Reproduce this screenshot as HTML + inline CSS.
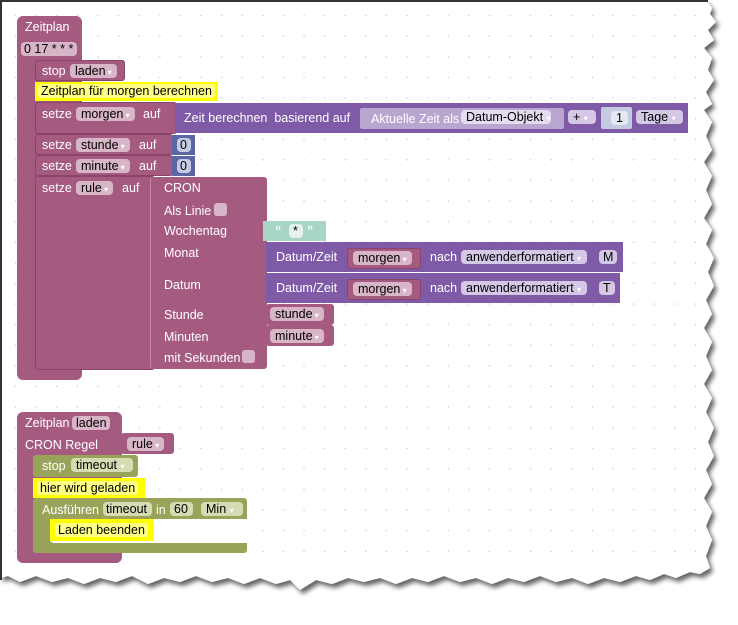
<!DOCTYPE html>
<html><head><meta charset="utf-8"><style>
body{margin:0;width:738px;height:625px;overflow:hidden;background:#fff;font-family:"Liberation Sans",Arial,sans-serif;font-size:12.5px;position:relative}
.a{position:absolute;box-sizing:border-box}
.b{background:#a55b80;border-radius:3px}
.t{position:absolute;color:#fff;white-space:nowrap;line-height:14px}
.f{position:absolute;background:#d8b5c7;color:#000;border-radius:4px;height:14px;line-height:14px;padding:0 5px;white-space:nowrap;box-sizing:border-box}
.dd:after{content:" ▾";font-size:8px;color:#fff}
.p{background:#7f5aa6}
.g{background:#9aa35a}
.gf{background:#d6dbb3}
.y{background:#ffff00}
.yi{position:absolute;background:#ffff88;border-radius:3px;color:#000;white-space:nowrap;line-height:14px;padding:0 3px}
.cb{position:absolute;width:13px;height:13px;background:#d8b5c7;border-radius:3px}
</style></head><body>
<svg class="a" style="left:0;top:0" width="738" height="625">
<defs><pattern id="d" width="20.6" height="20.6" patternUnits="userSpaceOnUse" x="5" y="5"><rect x="10" y="10" width="1.3" height="1.3" fill="#ccc"/></pattern>
<filter id="s"><feDropShadow dx="3" dy="4" stdDeviation="2.5" flood-color="#000" flood-opacity="0.6"/></filter></defs>
<path filter="url(#s)" fill="#fff" d="M0,0 L706,0 L712,8 L710,14 L716,22 L708,30 L714,40 L704,48 L712,58 L708,70 L714,80 L706,92 L712,104 L704,110 L712,122 L706,136 L712,150 L704,162 L712,176 L706,190 L712,204 L704,218 L712,230 L706,244 L714,258 L708,272 L714,286 L706,300 L712,314 L704,328 L712,342 L706,356 L712,370 L704,384 L712,398 L706,412 L714,428 L708,442 L714,456 L706,470 L712,484 L704,498 L712,512 L706,526 L712,540 L706,556 L710,568 L700,574 L690,572 L676,578 L664,574 L650,580 L636,576 L620,582 L604,578 L588,584 L572,578 L556,582 L540,576 L524,582 L508,578 L492,584 L476,578 L460,582 L444,576 L428,582 L412,578 L396,584 L380,578 L364,582 L348,578 L332,584 L316,580 L300,590 L290,580 L276,584 L260,578 L244,584 L228,578 L212,582 L196,576 L180,582 L164,578 L148,584 L132,576 L116,582 L100,578 L84,584 L68,578 L52,582 L36,576 L20,582 L8,576 L0,578 Z"/>
<path fill="url(#d)" d="M2,2 L700,2 L700,570 L2,570 Z"/>
<path d="M1,580 L1,1 L708,1" stroke="#333" stroke-width="2" fill="none"/>
</svg>

<!-- Block 1 -->
<div class="a b" style="left:17px;top:16px;width:65px;height:364px;border-radius:6px 6px 6px 6px"></div>
<div class="t" style="left:25px;top:20px">Zeitplan</div>
<div class="f" style="left:21px;top:42px;width:56px;padding:0 3px">0 17 * * *</div>

<div class="a b" style="left:35px;top:60px;width:90px;height:21px;border:1px solid #8a4468"></div>
<div class="t" style="left:42px;top:64px">stop</div>
<div class="f dd" style="left:70px;top:64px">laden</div>

<div class="a y" style="left:35px;top:82px;width:183px;height:19px"></div>
<div class="yi" style="left:38px;top:84px">Zeitplan für morgen berechnen</div>

<div class="a b" style="left:35px;top:102px;width:142px;height:32px;border:1px solid #8a4468"></div>
<div class="t" style="left:42px;top:107px">setze</div>
<div class="f dd" style="left:76px;top:107px">morgen</div>
<div class="t" style="left:143px;top:107px">auf</div>
<div class="a p" style="left:175px;top:103px;width:513px;height:30px"></div>
<div class="t" style="left:184px;top:111px">Zeit berechnen&nbsp; basierend auf</div>
<div class="a" style="left:360px;top:108px;width:204px;height:21px;background:#b8a5d0;border-radius:2px"></div>
<div class="t" style="left:371px;top:112px">Aktuelle Zeit als</div>
<div class="f" style="left:461px;top:110px;width:90px;background:#e6dcef">Datum-Objekt <span style="font-size:8px;color:#fff">▾</span></div>
<div class="f" style="left:568px;top:110px;width:28px;background:#d5c8e6">+ <span style="font-size:8px;color:#fff">▾</span></div>
<div class="a" style="left:601px;top:107px;width:31px;height:22px;background:#c5cbe2;border-radius:2px"></div>
<div class="f" style="left:611px;top:111px;width:17px;background:#e6e9f4;padding:0 5px">1</div>
<div class="f" style="left:636px;top:110px;width:47px;background:#d5c8e6">Tage <span style="font-size:8px;color:#fff">▾</span></div>

<div class="a b" style="left:35px;top:134px;width:138px;height:21px;border:1px solid #8a4468"></div>
<div class="t" style="left:42px;top:138px">setze</div>
<div class="f dd" style="left:76px;top:138px">stunde</div>
<div class="t" style="left:139px;top:138px">auf</div>
<div class="a" style="left:172px;top:135px;width:23px;height:20px;background:#5b67a5"></div>
<div class="f" style="left:177px;top:138px;width:14px;background:#c5cbe2;padding:0 3px">0</div>

<div class="a b" style="left:35px;top:155px;width:138px;height:21px;border:1px solid #8a4468"></div>
<div class="t" style="left:42px;top:159px">setze</div>
<div class="f dd" style="left:76px;top:159px">minute</div>
<div class="t" style="left:139px;top:159px">auf</div>
<div class="a" style="left:172px;top:156px;width:23px;height:20px;background:#5b67a5"></div>
<div class="f" style="left:177px;top:159px;width:14px;background:#c5cbe2;padding:0 3px">0</div>

<div class="a b" style="left:35px;top:176px;width:120px;height:194px;border:1px solid #8a4468"></div>
<div class="t" style="left:42px;top:181px">setze</div>
<div class="f dd" style="left:76px;top:181px">rule</div>
<div class="t" style="left:122px;top:181px">auf</div>
<div class="a b" style="left:150px;top:177px;width:117px;height:192px;border-left:1px solid #c48aa6"></div>
<div class="t" style="left:164px;top:181px">CRON</div>
<div class="t" style="left:164px;top:204px">Als Linie</div><div class="cb" style="left:214px;top:203px"></div>
<div class="t" style="left:164px;top:224px">Wochentag</div>
<div class="t" style="left:164px;top:246px">Monat</div>
<div class="t" style="left:164px;top:278px">Datum</div>
<div class="t" style="left:164px;top:308px">Stunde</div>
<div class="t" style="left:164px;top:330px">Minuten</div>
<div class="t" style="left:164px;top:351px">mit Sekunden</div><div class="cb" style="left:242px;top:350px"></div>

<div class="a" style="left:263px;top:221px;width:63px;height:20px;background:#a8d6c4"></div>
<div class="t" style="left:275px;top:224px;color:#fff;font-weight:bold">“</div>
<div class="f" style="left:289px;top:224px;width:14px;background:#e6f2ed;padding:0 4px">*</div>
<div class="t" style="left:307px;top:224px;color:#fff;font-weight:bold">”</div>

<div class="a p" style="left:266px;top:242px;width:357px;height:30px"></div>
<div class="t" style="left:276px;top:250px">Datum/Zeit</div>
<div class="a b" style="left:347px;top:248px;width:74px;height:21px;border:1px solid #8a4468"></div>
<div class="f dd" style="left:353px;top:251px">morgen</div>
<div class="t" style="left:430px;top:250px">nach</div>
<div class="f" style="left:461px;top:250px;width:126px;background:#d5c8e6">anwenderformatiert <span style="font-size:8px;color:#fff">▾</span></div>
<div class="f" style="left:599px;top:250px;width:18px;background:#d5c8e6;padding:0 4px">M</div>

<div class="a p" style="left:266px;top:273px;width:354px;height:30px"></div>
<div class="t" style="left:276px;top:281px">Datum/Zeit</div>
<div class="a b" style="left:347px;top:279px;width:74px;height:21px;border:1px solid #8a4468"></div>
<div class="f dd" style="left:353px;top:282px">morgen</div>
<div class="t" style="left:430px;top:281px">nach</div>
<div class="f" style="left:461px;top:281px;width:126px;background:#d5c8e6">anwenderformatiert <span style="font-size:8px;color:#fff">▾</span></div>
<div class="f" style="left:599px;top:281px;width:16px;background:#d5c8e6;padding:0 4px">T</div>

<div class="a b" style="left:266px;top:304px;width:68px;height:21px"></div>
<div class="f dd" style="left:270px;top:307px">stunde</div>
<div class="a b" style="left:266px;top:325px;width:68px;height:21px"></div>
<div class="f dd" style="left:270px;top:329px">minute</div>

<!-- Block 2 -->
<div class="a b" style="left:17px;top:412px;width:105px;height:151px;border-radius:6px"></div>
<div class="t" style="left:25px;top:416px">Zeitplan</div>
<div class="f" style="left:72px;top:416px;width:38px;padding:0 4px">laden</div>
<div class="t" style="left:25px;top:438px">CRON Regel</div>
<div class="a b" style="left:121px;top:433px;width:53px;height:21px"></div>
<div class="f dd" style="left:127px;top:437px">rule</div>

<div class="a g" style="left:33px;top:455px;width:105px;height:22px;border-radius:3px"></div>
<div class="t" style="left:42px;top:459px">stop</div>
<div class="f gf" style="left:71px;top:458px;width:62px;padding:0 5px">timeout <span style="font-size:8px;color:#fff">▾</span></div>

<div class="a y" style="left:33px;top:478px;width:112px;height:20px"></div>
<div class="yi" style="left:37px;top:481px">hier wird geladen</div>

<div class="a g" style="left:33px;top:498px;width:214px;height:55px;border-radius:3px"></div>
<div class="t" style="left:42px;top:503px">Ausführen</div>
<div class="f gf" style="left:103px;top:502px;width:49px;padding:0 3px">timeout</div>
<div class="t" style="left:156px;top:503px">in</div>
<div class="f gf" style="left:170px;top:502px;width:23px;padding:0 4px">60</div>
<div class="f gf" style="left:201px;top:502px;width:42px;padding:0 5px">Min <span style="font-size:8px;color:#fff">▾</span></div>
<div class="a" style="left:50px;top:519px;width:197px;height:24px;background:#fff;border-radius:4px 0 0 4px"></div>
<div class="a y" style="left:50px;top:519px;width:104px;height:22px"></div>
<div class="yi" style="left:55px;top:523px">Laden beenden</div>
<div class="a" style="left:38px;top:519px;width:12px;height:24px;background:#9aa35a"></div>
</body></html>
